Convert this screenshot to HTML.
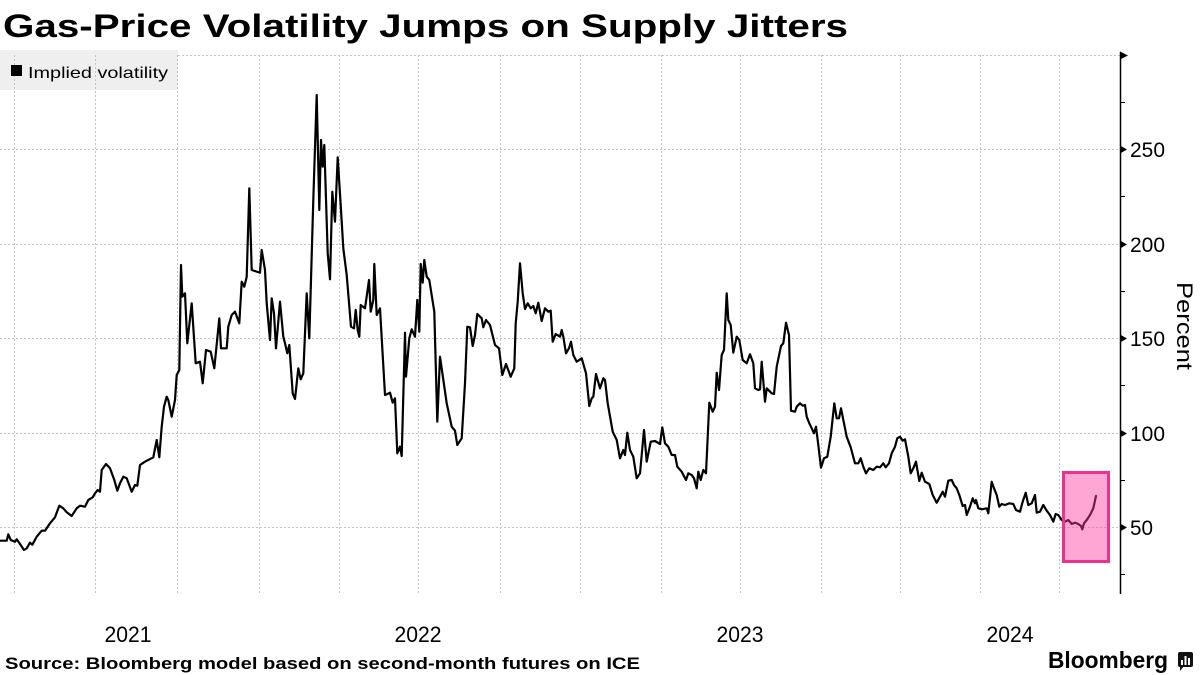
<!DOCTYPE html>
<html>
<head>
<meta charset="utf-8">
<style>
html,body{margin:0;padding:0;background:#fff;}
svg{display:block;}
text{font-family:"Liberation Sans",sans-serif;}
</style>
</head>
<body>
<svg width="1200" height="675" viewBox="0 0 1200 675" xmlns="http://www.w3.org/2000/svg">
<rect x="0" y="0" width="1200" height="675" fill="#fff"/>
<!-- Title -->
<text x="3" y="37" font-size="32" font-weight="bold" fill="#000" textLength="845" lengthAdjust="spacingAndGlyphs">Gas-Price Volatility Jumps on Supply Jitters</text>

<!-- Legend background -->
<rect x="0" y="50" width="178" height="40" fill="#efefef"/>

<!-- Vertical gridlines -->
<g stroke="#c4c4c4" stroke-width="1" stroke-dasharray="2,2">
<line x1="14.5" y1="55" x2="14.5" y2="594"/>
<line x1="95.5" y1="55" x2="95.5" y2="594"/>
<line x1="177.5" y1="55" x2="177.5" y2="594"/>
<line x1="259.5" y1="55" x2="259.5" y2="594"/>
<line x1="339.5" y1="55" x2="339.5" y2="594"/>
<line x1="418.5" y1="55" x2="418.5" y2="594"/>
<line x1="500.5" y1="55" x2="500.5" y2="594"/>
<line x1="580.5" y1="55" x2="580.5" y2="594"/>
<line x1="661.5" y1="55" x2="661.5" y2="594"/>
<line x1="740.5" y1="55" x2="740.5" y2="594"/>
<line x1="821.5" y1="55" x2="821.5" y2="594"/>
<line x1="900.5" y1="55" x2="900.5" y2="594"/>
<line x1="980.5" y1="55" x2="980.5" y2="594"/>
<line x1="1059.5" y1="55" x2="1059.5" y2="594"/>
</g>
<!-- Horizontal gridlines -->
<g stroke="#c4c4c4" stroke-width="1" stroke-dasharray="2,2">
<line x1="178" y1="55.5" x2="1120" y2="55.5"/>
<line x1="0" y1="149.5" x2="1120" y2="149.5"/>
<line x1="0" y1="244.5" x2="1120" y2="244.5"/>
<line x1="0" y1="338.5" x2="1120" y2="338.5"/>
<line x1="0" y1="433.5" x2="1120" y2="433.5"/>
<line x1="0" y1="527.5" x2="1120" y2="527.5"/>
</g>

<!-- Legend content -->
<rect x="11" y="65" width="11" height="11" fill="#000"/>
<text x="28" y="78" font-size="16" fill="#000" textLength="140" lengthAdjust="spacingAndGlyphs">Implied volatility</text>

<!-- Series -->
<polyline fill="none" stroke="#000" stroke-width="2.2" stroke-linejoin="round" stroke-linecap="round" points="0,540.7 6.7,540.7 8.3,534.3 10.7,540 15,541.7 16.7,539.3 20,544 24,550 26.7,548.3 30,542.7 32.3,544.7 36.7,536.7 41.7,530.7 45,530.7 50,523.3 55,517.3 59.3,505.7 63.3,508.3 66.7,512.3 71.7,516 76.7,508.3 80,505.7 85,506.7 88.3,500 92.7,497.3 95,493.3 97.7,490 100,491.7 101.7,470 106,464 110,468.3 114.3,480 117.3,490.7 120,483.3 123.3,476.7 126.7,478.3 131.7,491.7 135,485 137.3,485.7 140,465 145,461.7 153.3,457.3 156.7,440 159.3,457.3 161.7,426.7 164,406.7 166.7,396.7 168.3,400 171.7,416.7 175,400 176.7,375 179.3,370 181,265 182.3,296.7 185,293.3 187.3,343.3 191.7,303.3 195.7,363.3 200,361.7 202.7,383.3 206,350 210.7,351.7 214.3,368.3 219.3,318.3 221,348.3 226.7,348.3 228.3,326.7 231.7,315 235,311.7 239.3,323.3 241.7,281.7 244.3,286.7 246.7,276.7 249.3,188.3 251.7,270 260,272.7 261.7,250 265,270 266.7,303.3 270,340 271.7,298.3 274,313.3 276,348.3 280,301.7 283.3,336.7 285,343.3 287.3,353.3 289.3,345 292.7,393.3 295,399 298.3,368.3 300.7,379.3 303.3,373.3 306.7,293.3 309.3,338.3 313.3,200 316.7,95 319.3,210 321,140 322.7,166.7 324.3,145 327.7,253.3 330,279.3 332.3,191.7 335,221.7 337.7,157.3 341,210 343.3,248.3 346.7,275 351,326.7 354,328.3 355.7,310 357.7,330 359.3,336.7 360.7,305 365,308.3 369,280 370.7,311.7 373.3,300 374.3,264 376.7,315 380,308.3 385,395 387.3,394 390,392.7 392.7,402.7 395,398.3 397.3,453.3 400,446.7 401.7,456 405,332.7 406,376.7 409.3,338.3 411.7,329.3 415,336.7 417.3,300 419.3,331.7 420.7,264 422.7,282.7 424.3,260 426.7,276.7 429.3,280 434.3,311.7 437.3,421.7 440,356.7 446.7,403.3 451.7,426.7 455,430.7 457.3,445 461.7,438.3 465,383.3 467.3,326.7 470,327.3 472.7,346 475,335 477.3,314 481.7,318.3 483.3,327.3 486,320 490,325 495,345 499,348.3 502.3,375 506,364 510.7,376.7 514.3,368.3 515.7,323.3 517.7,301.7 520,263.3 522.7,293.3 525,309 527.7,303.3 530.7,308.3 533.3,306 535.7,313.3 538.3,302.7 541.7,321 545,308.3 548.3,311.7 550.7,310.7 552.7,341.7 555.7,334 560,336.7 561.7,330 563.3,336.7 566,353.3 569,348.3 571,341.7 573.3,355 576.7,361.7 581.7,358.3 586,373.3 589.3,406 591.7,398.3 593.3,396.7 596,374 600,388.3 603.3,378.3 605,380 607.7,403.3 612.7,431.7 616.7,440 620,458.3 623.3,450 625,455 627.3,432.7 630,450 633.3,456.7 636.7,478.3 640,473.3 644,430 646.7,461.7 650.7,441.7 655,441 660,444 662.3,427.3 665,443.3 668.3,446.7 671.7,455 675,455 677.3,466.7 681.7,471.7 686,480 688.3,473.3 691.7,475 694,478.3 696.7,488.3 698.3,471.7 700.7,480 703.3,470 706,473.3 709.3,402.7 712.7,411.7 715,406.7 716.7,372.7 719,390 721.7,355 724,350 726.7,293.3 728.3,320 730.7,325 733.3,352.7 736.7,336.7 739.3,340 742.7,360 746.7,363.3 750,354.3 753.3,363.3 755,388.3 758.3,390 760,389.3 761.7,361.7 765,401.7 766.7,388.3 771.7,393.3 774,394 776.7,366.7 781,346 783.3,343.3 786,322.7 789,335 791,410.7 795,411.7 796.7,406.7 800,403.3 802.7,405.7 805,405 806.7,416.7 809.3,423.3 811.7,428.3 814,433.3 816,426.7 818.3,445 821,467.7 824,458.3 827.3,456.7 830.7,436.7 834.3,403.3 836.7,418.3 839,418.3 841,408.3 844,423.3 846.7,436.7 850.7,447.3 855,463.3 858.3,463.3 860.7,458.3 863.3,466.7 866,473.3 869.3,468.3 873.3,470 876.7,466.7 880,467.3 883.3,463.3 885.7,467.3 889,463.3 891.7,453.3 895,446.7 897.3,438.3 900,436.7 902.7,440.7 905,439.3 908.3,456.7 910.7,473.3 913.3,468.3 916,461.7 919.3,481 921.7,472.7 925,481.7 929.3,484 932.7,495 936.7,502.7 940,496.7 942.7,491.7 945,496.7 948.3,480.7 951.7,480 954,485 956.7,488.3 959.3,495 962.7,506 965,505 966.7,515 970,506.7 972.7,498.3 975,503.3 976,500 978.3,508.3 981.7,509.3 986.7,508.3 988.3,513.3 991.7,481.7 994,488.3 996.7,495 999.3,506.7 1001.7,504 1005,505 1009.3,503.3 1013.3,504 1016,510 1020,511.7 1022.7,501.7 1025.7,492.7 1028.3,505 1031.7,503.3 1035,495 1036.7,512.7 1040,511.7 1043.3,505 1046.7,510.7 1050,515 1053.3,521.7 1055.7,514 1058.3,515 1061.7,520 1065,521.7 1068.3,520 1071.7,524 1075,522.7 1078.3,524 1081,526 1082.3,529.3 1084,523.3 1086.7,520 1090,515 1093.3,508.3 1096,496"/>

<!-- Highlight box -->
<rect x="1063.5" y="472.5" width="45" height="89" fill="rgba(255,60,160,0.45)" stroke="#e8338f" stroke-width="3"/>

<!-- Right axis -->
<line x1="1120.5" y1="52" x2="1120.5" y2="594" stroke="#000" stroke-width="1.5"/>
<g fill="#000">
<polygon points="1120,51.5 1128,55.5 1120,59.5"/>
<polygon points="1120,145.5 1127,149.5 1120,153.5"/>
<polygon points="1120,240.5 1127,244.5 1120,248.5"/>
<polygon points="1120,334.5 1127,338.5 1120,342.5"/>
<polygon points="1120,429.5 1127,433.5 1120,437.5"/>
<polygon points="1120,523.5 1127,527.5 1120,531.5"/>
</g>
<g stroke="#000" stroke-width="1">
<line x1="1120" y1="102.5" x2="1125" y2="102.5"/>
<line x1="1120" y1="196.5" x2="1125" y2="196.5"/>
<line x1="1120" y1="291.5" x2="1125" y2="291.5"/>
<line x1="1120" y1="385.5" x2="1125" y2="385.5"/>
<line x1="1120" y1="480.5" x2="1125" y2="480.5"/>
<line x1="1120" y1="574.5" x2="1125" y2="574.5"/>
</g>
<g font-size="21" fill="#000">
<text x="1130" y="157" textLength="35" lengthAdjust="spacingAndGlyphs">250</text>
<text x="1130" y="252" textLength="35" lengthAdjust="spacingAndGlyphs">200</text>
<text x="1130" y="346" textLength="35" lengthAdjust="spacingAndGlyphs">150</text>
<text x="1130" y="441" textLength="35" lengthAdjust="spacingAndGlyphs">100</text>
<text x="1130" y="535" textLength="23" lengthAdjust="spacingAndGlyphs">50</text>
</g>
<text transform="translate(1177,326) rotate(90)" text-anchor="middle" font-size="22" fill="#000" textLength="88" lengthAdjust="spacingAndGlyphs">Percent</text>

<!-- X labels -->
<g font-size="22" fill="#000" text-anchor="middle">
<text x="128" y="642" textLength="47" lengthAdjust="spacingAndGlyphs">2021</text>
<text x="418" y="642" textLength="47" lengthAdjust="spacingAndGlyphs">2022</text>
<text x="740" y="642" textLength="47" lengthAdjust="spacingAndGlyphs">2023</text>
<text x="1010" y="642" textLength="47" lengthAdjust="spacingAndGlyphs">2024</text>
</g>

<!-- Source -->
<text x="5" y="669" font-size="17" font-weight="bold" fill="#000" textLength="635" lengthAdjust="spacingAndGlyphs">Source: Bloomberg model based on second-month futures on ICE</text>

<!-- Bloomberg logo -->
<text x="1048" y="668" font-size="23" font-weight="bold" fill="#000" textLength="120" lengthAdjust="spacingAndGlyphs">Bloomberg</text>
<rect x="1178" y="652" width="15" height="15" rx="2" fill="#111"/>
<polygon points="1180,666 1184,666 1180,671" fill="#111"/>
<g fill="#fff">
<rect x="1181" y="660" width="2" height="5"/>
<rect x="1184.5" y="656" width="2" height="9"/>
<rect x="1188" y="658" width="2" height="7"/>
</g>
</svg>
</body>
</html>
